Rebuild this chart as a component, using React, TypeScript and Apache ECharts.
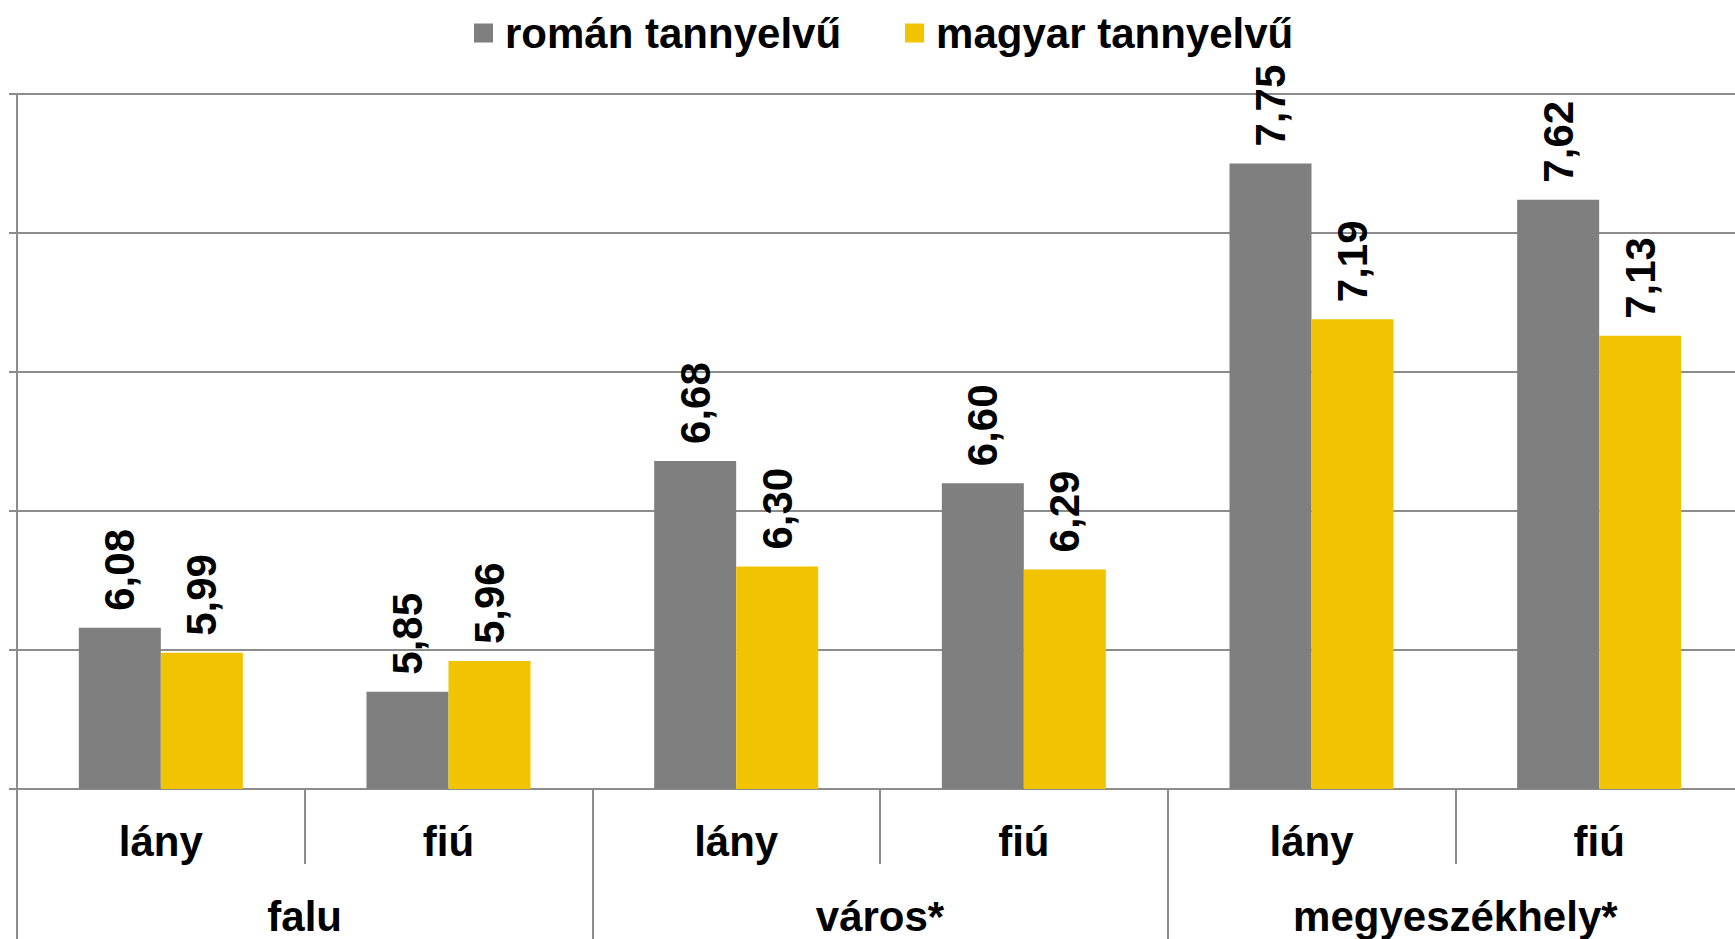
import React, { useEffect, useRef } from "react";
import * as echarts from "echarts";

const subCategories = ["lány", "fiú", "lány", "fiú", "lány", "fiú"];
const groupCategories = ["falu", "város*", "megyeszékhely*"];
const seriesNames = ["román tannyelvű", "magyar tannyelvű"];
const romanValues = [6.08, 5.85, 6.68, 6.6, 7.75, 7.62];
const magyarValues = [5.99, 5.96, 6.3, 6.29, 7.19, 7.13];
const colors = ["#7f7f7f", "#f2c300"];

const FONT = "'Liberation Sans', Arial, sans-serif";
const GRID_COLOR = "#8c8c8c";
const FS = 42;

export default function App() {
  const ref = useRef<HTMLDivElement>(null);
  useEffect(() => {
    if (!ref.current) return;
    const chart = echarts.init(ref.current, undefined, { renderer: "svg" });
    const labelCfg = {
      show: true,
      position: "top",
      rotate: 90,
      align: "left",
      verticalAlign: "middle",
      distance: 17,
      color: "#000",
      fontWeight: "bold",
      fontSize: FS,
      fontFamily: FONT,
      formatter: (p: any) => Number(p.value).toFixed(2).replace(".", ","),
    };
    chart.setOption({
      animation: false,
      textStyle: { fontFamily: FONT },
      legend: {
        data: seriesNames,
        left: 469,
        top: 7,
        icon: "rect",
        itemWidth: 19,
        itemHeight: 19,
        itemGap: 64,
        textStyle: {
          fontSize: FS,
          fontWeight: "bold",
          color: "#000",
          fontFamily: FONT,
          padding: [0, 0, 0, 7],
          lineHeight: FS,
        },
      },
      grid: { left: 17, right: 0, top: 94, bottom: 150 },
      xAxis: [
        {
          type: "category",
          data: subCategories,
          position: "bottom",
          axisLine: { show: true, lineStyle: { color: GRID_COLOR, width: 2 } },
          axisTick: {
            show: true,
            interval: 0,
            length: 75,
            lineStyle: { color: GRID_COLOR, width: 2 },
          },
          axisLabel: {
            interval: 0,
            margin: 31,
            fontSize: FS,
            fontWeight: "bold",
            color: "#000",
            fontFamily: FONT,
          },
        },
        {
          type: "category",
          data: groupCategories,
          position: "bottom",
          axisLine: { show: false },
          axisTick: {
            show: true,
            interval: 0,
            length: 160,
            lineStyle: { color: GRID_COLOR, width: 2 },
          },
          axisLabel: {
            interval: 0,
            margin: 106,
            fontSize: FS,
            fontWeight: "bold",
            color: "#000",
            fontFamily: FONT,
          },
        },
      ],
      yAxis: {
        type: "value",
        min: 5.5,
        max: 8,
        interval: 0.5,
        axisLine: { show: true, lineStyle: { color: GRID_COLOR, width: 2 } },
        axisTick: { show: true, length: 8, lineStyle: { color: GRID_COLOR, width: 2 } },
        axisLabel: { show: false },
        splitLine: { show: true, lineStyle: { color: GRID_COLOR, width: 2 } },
      },
      series: [
        {
          name: seriesNames[0],
          type: "bar",
          xAxisIndex: 0,
          data: romanValues,
          barWidth: 82,
          barGap: "0%",
          itemStyle: { color: colors[0] },
          label: labelCfg,
        },
        {
          name: seriesNames[1],
          type: "bar",
          xAxisIndex: 0,
          data: magyarValues,
          barWidth: 82,
          barGap: "0%",
          itemStyle: { color: colors[1] },
          label: labelCfg,
        },
      ],
    });
    return () => chart.dispose();
  }, []);
  return (
    <div
      style={{
        position: "fixed",
        left: 0,
        top: 0,
        width: 1735,
        height: 939,
        overflow: "hidden",
        background: "#fff",
      }}
    >
      <div ref={ref} style={{ position: "absolute", left: 0, top: 0, width: 1743, height: 939 }} />
    </div>
  );
}
